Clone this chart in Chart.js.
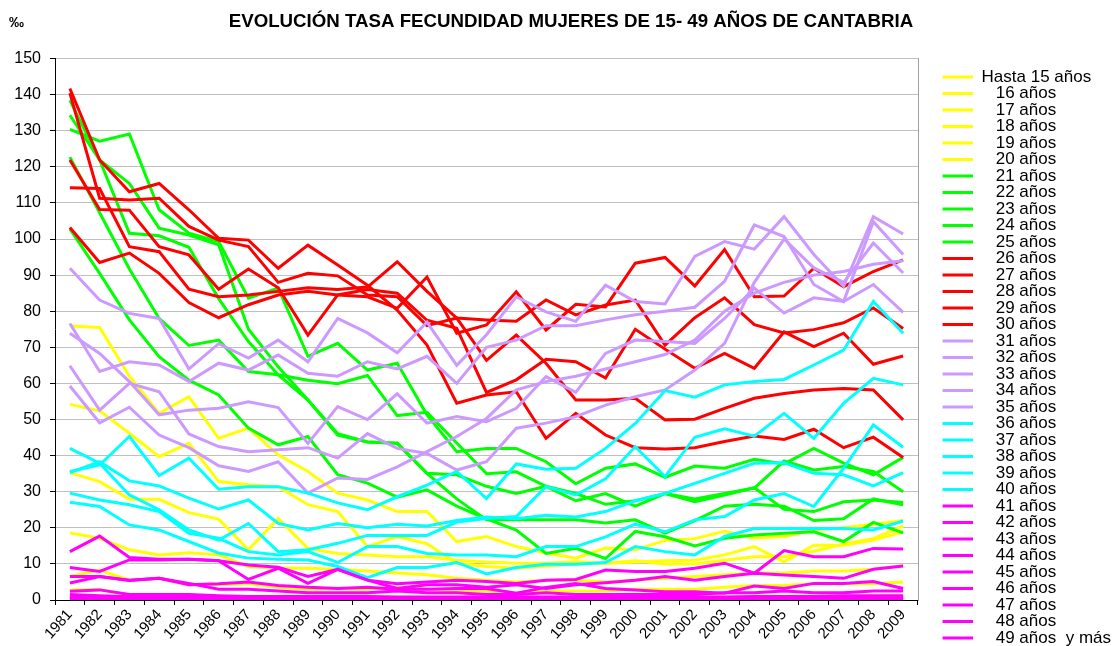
<!DOCTYPE html>
<html>
<head>
<meta charset="utf-8">
<script src="https://cdn.jsdelivr.net/npm/chart.js@4.4.0/dist/chart.umd.min.js"></script>
<style>
  html, body { margin: 0; padding: 0; background: #fff; }
</style>
</head>
<body>
<canvas id="grafico" width="1117" height="646"></canvas>
<script>
// años (eje X)
const years = ['1981','1982','1983','1984','1985','1986','1987','1988','1989','1990','1991','1992','1993','1994','1995',
  '1996','1997','1998','1999','2000','2001','2002','2003','2004','2005','2006','2007','2008','2009'];

const yTicksMax = 150;

// tasas por edad (por mil)
const s15 = [2.8,2.9,1.4,1.4,1.0,1.0,1.0,1.0,0.8,0.8,0.8,0.8,0.8,0.8,0.6,0.6,0.6,0.6,0.6,0.6,0.8,0.8,0.8,1.0,1.0,1.0,1.2,1.2,1.2];
const s16 = [6.5,8.3,5.5,6.0,4.2,4.3,4.5,3.5,3.0,3.0,3.0,3.5,3.0,2.5,2.5,2.0,2.5,2.5,2.5,3.0,3.0,3.0,3.5,4.0,4.0,4.5,4.5,4.5,5.0];
const s17 = [18.6,17.1,13.9,12.5,13.1,12.5,9.3,8.8,8.8,8.5,8.0,7.5,7.0,6.0,5.5,5.0,5.5,5.5,5.0,5.5,6.0,6.5,7.0,7.5,7.5,8.0,8.0,8.5,9.5];
const s18 = [35.3,32.8,27.9,27.9,24.2,22.4,13.9,22.6,14.3,12.9,12.5,12.0,12.0,11.0,10.5,10.2,10.2,10.6,10.2,10.9,10.0,10.0,11.0,12.0,12.0,13.5,15.5,17.0,20.5];
const s19 = [54.2,52.4,46.2,39.7,43.4,32.8,31.9,31.4,26.4,24.5,14.8,17.6,15.6,10.2,9.3,8.8,9.5,10.0,10.2,10.5,10.9,11.0,12.5,14.8,10.6,15.2,15.2,16.6,18.9];
const s20 = [75.9,75.5,62.0,51.7,56.3,44.8,47.6,40.2,35.6,29.6,27.7,24.5,24.5,16.2,17.6,14.8,13.0,11.6,14.4,13.9,16.5,17.0,19.0,17.1,17.6,19.4,20.0,21.0,22.0];

const s21 = [102.8,90.5,77.6,67.4,60.9,56.8,47.6,43.0,45.3,34.7,32.4,28.5,30.5,26.0,22.5,19.4,12.9,14.3,11.5,19.0,17.5,15.0,17.1,18.0,18.5,18.9,16.2,21.5,18.6];
const s22 = [122.7,107.3,91.7,78.0,70.5,72.0,63.3,62.4,55.4,46.1,43.8,43.4,35.1,28.0,22.2,22.2,22.2,22.2,21.3,22.2,18.5,22.0,26.0,26.5,26.0,22.0,22.5,28.0,26.4];
const s23 = [134.3,121.9,101.6,100.9,97.7,83.5,71.6,62.4,60.9,59.9,62.2,51.1,52.0,43.5,35.0,35.5,31.5,29.5,26.5,27.5,29.5,28.0,29.5,31.0,38.5,36.0,37.0,35.6,30.0];
const s24 = [138.4,121.9,115.4,103.0,101.1,98.4,75.0,64.6,55.4,45.7,43.8,43.4,35.1,34.7,31.5,29.5,31.5,27.5,29.5,26.0,29.5,27.2,29.1,31.1,25.1,24.5,27.2,27.7,27.0];
const s25 = [130.4,127.1,129.1,108.1,101.6,99.3,83.6,86.4,67.5,71.1,63.7,65.6,51.3,41.1,42.0,42.0,38.3,32.2,36.5,37.7,34.0,37.1,36.5,39.0,37.7,42.0,37.9,34.7,39.5];

const s26 = [141.7,121.9,113.1,115.4,108.1,100.2,99.7,91.9,98.3,92.8,87.2,80.3,70.6,54.5,56.8,57.7,44.8,51.7,45.7,42.2,41.8,42.2,43.9,45.4,44.5,47.3,42.2,45.1,39.5];
const s27 = [140.4,111.3,110.8,111.3,103.5,99.7,97.9,88.0,90.5,89.8,84.5,84.0,76.0,78.1,66.4,73.4,65.6,55.4,55.4,55.9,49.9,50.1,53.1,55.9,57.2,58.2,58.6,58.2,49.9];
const s28 = [121.9,108.2,108.0,97.9,95.6,86.1,91.7,86.5,73.4,84.5,86.0,85.0,77.5,75.3,57.5,61.0,66.7,66.0,61.5,75.0,69.5,64.2,68.3,64.2,74.3,70.2,73.9,65.3,67.6];
const s29 = [114.2,114.0,97.9,96.5,86.1,84.0,84.5,85.5,86.5,86.0,86.7,93.7,85.5,78.1,77.6,77.2,83.1,79.0,81.7,83.1,70.6,78.2,83.7,76.3,74.0,74.9,76.8,80.9,75.2];
const s30 = [103.2,93.5,96.1,90.5,82.4,78.2,81.8,84.5,85.5,84.5,84.0,80.8,89.5,73.9,76.2,85.4,74.8,81.9,81.2,93.3,94.9,87.0,97.1,84.0,84.2,91.9,86.8,91.0,94.2];

const s31 = [91.9,83.1,79.4,78.0,64.0,71.0,67.0,72.0,66.0,78.0,74.0,68.5,77.0,65.0,73.5,84.0,79.8,77.2,87.2,82.7,82.0,95.2,99.3,97.2,106.2,95.7,86.9,106.2,101.4];
const s32 = [76.6,63.3,66.0,65.1,60.5,65.6,63.7,67.9,62.8,62.0,66.0,64.0,67.5,60.0,70.0,72.0,76.0,76.0,77.6,79.0,80.0,81.1,88.3,103.9,100.7,87.4,82.7,104.8,95.7];
const s33 = [73.9,68.3,60.5,51.3,52.6,53.1,54.9,53.3,43.4,53.6,50.0,57.1,49.0,50.8,49.4,53.1,61.9,57.5,68.3,72.0,71.6,71.1,78.0,86.4,79.5,83.7,82.7,87.4,79.7];
const s34 = [64.9,52.6,60.0,57.7,46.0,42.5,41.1,41.6,42.2,39.3,46.1,42.0,40.6,36.0,38.3,47.6,49.0,50.8,54.0,56.3,58.2,63.7,71.1,88.0,100.0,92.0,88.0,98.9,90.6];
const s35 = [59.3,49.1,53.4,45.7,42.2,37.2,35.6,38.3,29.6,33.8,33.4,36.9,41.1,45.3,50.3,58.2,60.5,62.0,64.0,66.0,68.0,72.0,80.0,85.0,88.0,90.0,91.0,93.0,94.0];

const s36 = [35.6,37.4,45.3,34.5,39.3,30.7,31.4,31.4,29.6,26.9,25.0,28.6,31.8,35.6,28.1,37.7,36.2,36.5,42.0,48.9,58.0,56.2,59.6,60.5,61.1,65.1,69.2,82.7,73.9];
const s37 = [42.0,37.9,29.1,25.0,19.4,16.6,21.2,13.4,13.9,15.7,17.9,17.9,17.9,21.6,22.6,23.1,31.4,29.1,33.6,42.5,34.2,45.1,47.4,45.4,51.7,44.8,54.5,61.4,59.6];
const s38 = [35.3,38.3,33.0,31.6,28.2,25.2,27.7,21.2,19.4,21.2,20.0,21.0,20.5,22.0,23.0,22.5,23.5,23.0,24.5,27.5,29.5,32.3,35.1,37.9,38.0,35.1,34.7,31.6,35.3];
const s39 = [29.6,27.7,26.4,24.5,18.5,17.1,13.4,12.5,13.4,10.4,14.8,14.8,12.9,12.5,12.5,12.0,14.8,14.8,17.5,21.0,18.9,22.2,23.1,27.7,29.5,25.9,36.5,48.5,42.3];
const s40 = [27.1,25.9,20.8,19.4,16.2,13.0,11.6,11.3,11.1,9.3,6.2,9.0,9.0,10.4,7.2,9.0,9.9,9.9,10.4,14.8,13.4,12.5,17.6,19.8,19.8,19.8,19.8,19.4,21.9];

const s41 = [13.4,17.7,11.8,11.3,11.3,10.9,9.7,9.1,6.5,8.5,5.5,4.5,5.0,5.5,5.1,4.6,5.5,5.7,8.3,7.9,7.9,8.8,10.2,7.4,13.7,12.0,12.0,14.3,14.1];
const s42 = [9.0,7.9,11.1,11.1,11.3,10.9,5.7,8.8,4.6,8.5,5.5,3.2,4.2,4.2,3.5,4.2,3.2,4.2,4.8,5.5,6.5,5.5,6.5,7.4,6.9,6.5,6.0,8.5,9.4];
const s43 = [6.5,6.5,5.5,6.0,4.2,4.5,5.0,4.0,3.5,3.2,3.5,3.0,3.0,3.2,3.2,1.9,3.5,4.6,3.2,2.8,2.3,2.3,1.9,3.9,3.2,4.6,4.6,5.1,3.2];
const s44 = [4.7,6.5,5.4,6.0,4.6,3.0,3.0,2.5,2.0,2.0,2.0,2.5,2.0,2.0,1.5,1.5,2.0,1.5,1.5,1.5,1.5,1.5,2.0,2.0,2.5,2.0,2.0,2.5,2.5];
const s45 = [2.4,2.8,1.5,1.5,1.5,1.2,1.0,1.0,1.0,1.0,1.0,0.8,0.8,0.8,0.8,0.8,0.8,0.8,0.8,0.8,0.8,0.8,0.8,1.0,1.0,1.0,1.2,1.2,1.2];
const s46 = [1.5,1.2,0.9,0.8,0.8,0.7,0.6,0.6,0.5,0.5,0.5,0.4,0.4,0.4,0.4,0.4,0.4,0.4,0.4,0.4,0.4,0.4,0.5,0.5,0.5,0.5,0.6,0.6,0.6];
const s47 = [0.9,0.8,0.6,0.5,0.5,0.4,0.4,0.3,0.3,0.3,0.3,0.2,0.2,0.2,0.2,0.2,0.2,0.2,0.2,0.2,0.2,0.2,0.2,0.3,0.3,0.3,0.3,0.3,0.3];
const s48 = [0.5,0.4,0.3,0.3,0.3,0.2,0.2,0.2,0.1,0.1,0.1,0.1,0.1,0.1,0.1,0.1,0.1,0.1,0.1,0.1,0.1,0.1,0.1,0.1,0.1,0.1,0.2,0.2,0.2];
const s49 = [0.3,0.2,0.2,0.2,0.1,0.1,0.1,0.1,0.1,0.1,0.1,0.1,0.1,0.1,0.1,0.1,0.1,0.1,0.1,0.1,0.1,0.1,0.1,0.1,0.1,0.1,0.1,0.1,0.1];

const series = [
  ['Hasta 15 años', s15, '#FFFF00'], ['   16 años', s16, '#FFFF00'], ['   17 años', s17, '#FFFF00'],
  ['   18 años', s18, '#FFFF00'], ['   19 años', s19, '#FFFF00'], ['   20 años', s20, '#FFFF00'],
  ['   21 años', s21, '#00FF00'], ['   22 años', s22, '#00FF00'], ['   23 años', s23, '#00FF00'],
  ['   24 años', s24, '#00FF00'], ['   25 años', s25, '#00FF00'],
  ['   26 años', s26, '#FF0000'], ['   27 años', s27, '#FF0000'], ['   28 años', s28, '#FF0000'],
  ['   29 años', s29, '#FF0000'], ['   30 años', s30, '#FF0000'],
  ['   31 años', s31, '#CC99FF'], ['   32 años', s32, '#CC99FF'], ['   33 años', s33, '#CC99FF'],
  ['   34 años', s34, '#CC99FF'], ['   35 años', s35, '#CC99FF'],
  ['   36 años', s36, '#00FFFF'], ['   37 años', s37, '#00FFFF'], ['   38 años', s38, '#00FFFF'],
  ['   39 años', s39, '#00FFFF'], ['   40 años', s40, '#00FFFF'],
  ['   41 años', s41, '#FF00FF'], ['   42 años', s42, '#FF00FF'], ['   43 años', s43, '#FF00FF'],
  ['   44 años', s44, '#FF00FF'], ['   45 años', s45, '#FF00FF'], ['   46 años', s46, '#FF00FF'],
  ['   47 años', s47, '#FF00FF'], ['   48 años', s48, '#FF00FF'], ['   49 años  y más', s49, '#FF00FF']
];

const FONT = '"Liberation Sans", Arial, sans-serif';
const W = 1117, PLOT_RIGHT = 918;
const PAD_R = -4;   // la leyenda llega casi al borde derecho

// signo de por mil y título algo desplazado a la derecha, como en el original
const extras = {
  id: 'extras',
  afterLayout(chart) {
    const t = chart.titleBlock;
    if (t) { t.left += 10.5; t.right += 10.5; }
  },
  afterDraw(chart) {
    const ctx = chart.ctx;
    ctx.save();
    ctx.font = 'bold 15px ' + FONT;
    ctx.fillStyle = '#000';
    ctx.textBaseline = 'middle';
    ctx.fillText('‰', 9, 23);
    ctx.restore();
  }
};

const grafico = new Chart(document.getElementById('grafico').getContext('2d'), {
  type: 'line',
  data: {
    labels: years,
    datasets: series.map(([label, data, color], i) => ({
      label: label,
      data: data,
      borderColor: color,
      backgroundColor: color,
      borderWidth: 3,
      pointRadius: 0,
      tension: 0,
      fill: false,
      order: series.length - i   // las últimas series quedan encima
    }))
  },
  options: {
    responsive: false,
    animation: false,
    layout: { padding: { left: 0, top: 0, bottom: 0, right: PAD_R } },
    plugins: {
      tooltip: { enabled: false },
      title: {
        display: true,
        text: 'EVOLUCIÓN TASA FECUNDIDAD MUJERES DE 15- 49 AÑOS DE CANTABRIA',
        color: '#000',
        font: { family: FONT, size: 18.7, weight: 'bold' },
        padding: { top: 10.8, bottom: 25.3 }
      },
      legend: {
        position: 'right',
        align: 'end',
        labels: {
          color: '#000',
          font: { family: FONT, size: 17 },
          boxWidth: 31,
          boxHeight: 3,
          padding: -0.5,
          generateLabels(chart) {
            const items = Chart.defaults.plugins.legend.labels.generateLabels(chart);
            items.forEach(it => { it.fillStyle = it.strokeStyle; it.lineWidth = 0; });
            return items.sort((a, b) => a.datasetIndex - b.datasetIndex);
          }
        }
      }
    },
    scales: {
      x: {
        offset: true,
        grid: { drawOnChartArea: false, drawTicks: true, tickLength: 5, tickColor: '#000', offset: true },
        border: { color: '#000', width: 1 },
        ticks: { color: '#000', font: { family: FONT, size: 15 }, minRotation: 48, maxRotation: 48, autoSkip: false, padding: 1 },
        afterFit(s) { s.height = 46; }
      },
      y: {
        min: 0,
        max: yTicksMax,
        ticks: { stepSize: 10, color: '#000', font: { family: FONT, size: 16 }, padding: 9 },
        grid: { color: '#c0c0c0', tickColor: '#000', tickLength: 5 },
        border: { color: '#000', width: 1 },
        afterFit(s) { s.width = 55; }
      },
      y2: {
        position: 'right',
        min: 0,
        max: yTicksMax,
        grid: { display: false },
        ticks: { display: false },
        border: { display: true, color: '#a0a0a0' },
        afterFit(s) { s.width = Math.max(0, W - PAD_R - s.chart.legend.width - PLOT_RIGHT); }
      }
    }
  },
  plugins: [extras]
});
</script>
</body>
</html>
